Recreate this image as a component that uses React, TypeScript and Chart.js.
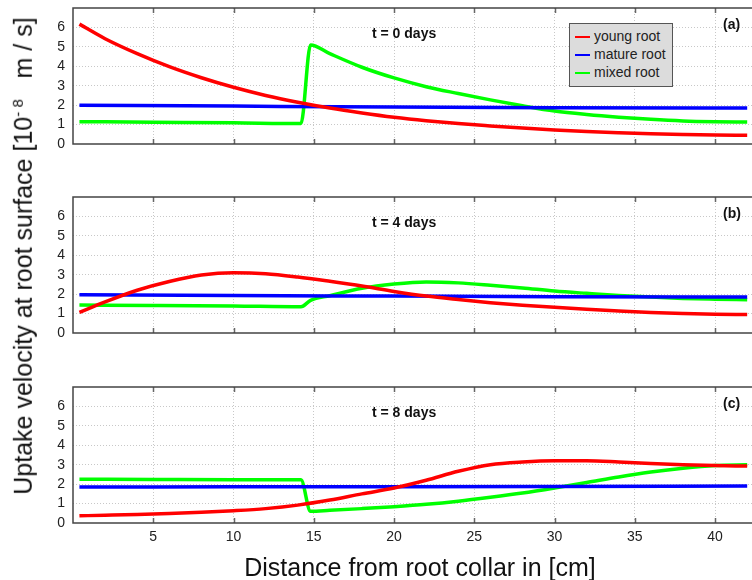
import React, { useEffect, useRef } from "react";
import { Chart, registerables } from "chart.js";
Chart.register(...registerables);

// ---------- data ----------
const SERIES_LABELS = ["young root", "mature root", "mixed root"];
const SERIES_COLORS = ["#ff0000", "#0000ff", "#00ff00"];
const PANEL_TIMES = ["t = 0 days", "t = 4 days", "t = 8 days"];
const PANEL_TAGS = ["(a)", "(b)", "(c)"];
const X_TICKS = [5, 10, 15, 20, 25, 30, 35, 40];
const Y_TICKS = [0, 1, 2, 3, 4, 5, 6];
const X_MIN = 0;
const X_MAX = 42.3;
const Y_MAX = 7;

const X_RED = [0.4, 2, 4, 6, 8, 10, 12, 14, 16, 18, 20, 22, 24, 26, 28, 30, 32, 34, 36, 38, 40, 42];
const X_BLUE = [0.4, 10, 20, 30, 42];
const X_GREEN = [0.4, 5, 10, 14.2, 14.8, 16, 18, 20, 22, 24, 26, 28, 30, 32, 34, 36, 38, 40, 42];

// t = 0 days
const RED_A = [6.17, 5.42, 4.65, 3.98, 3.41, 2.92, 2.5, 2.15, 1.85, 1.6, 1.38, 1.2, 1.05, 0.93, 0.82, 0.72, 0.64, 0.58, 0.53, 0.49, 0.46, 0.45];
const BLUE_A = [2.0, 1.95, 1.9, 1.87, 1.85];
const GREEN_A = [1.15, 1.12, 1.09, 1.05, 5.1, 4.65, 3.95, 3.4, 2.95, 2.6, 2.27, 1.97, 1.7, 1.52, 1.38, 1.27, 1.19, 1.15, 1.13];

// t = 4 days
const RED_B = [1.06, 1.6, 2.2, 2.65, 2.98, 3.1, 3.05, 2.88, 2.66, 2.42, 2.14, 1.9, 1.72, 1.56, 1.43, 1.32, 1.22, 1.13, 1.06, 1.01, 0.97, 0.95];
const BLUE_B = [1.97, 1.93, 1.9, 1.87, 1.85];
const GREEN_B = [1.44, 1.42, 1.39, 1.35, 1.68, 1.92, 2.3, 2.52, 2.63, 2.58, 2.46, 2.32, 2.16, 2.04, 1.93, 1.85, 1.78, 1.74, 1.71];

// t = 8 days
const RED_C = [0.37, 0.4, 0.44, 0.49, 0.55, 0.63, 0.74, 0.92, 1.18, 1.5, 1.8, 2.2, 2.66, 3.0, 3.14, 3.2, 3.2, 3.14, 3.06, 3.0, 2.96, 2.93];
const BLUE_C = [1.85, 1.86, 1.87, 1.88, 1.9];
const GREEN_C = [2.25, 2.24, 2.23, 2.22, 0.6, 0.65, 0.74, 0.84, 0.96, 1.12, 1.32, 1.54, 1.8, 2.08, 2.37, 2.62, 2.82, 2.96, 3.0];

const FONT = "'Liberation Sans', Arial, Helvetica, sans-serif";

const framePlugin = {
  id: "frame",
  afterDraw(chart: any) {
    const { ctx, chartArea, scales } = chart;
    const { left, right, top, bottom } = chartArea;
    ctx.save();
    ctx.strokeStyle = "#666";
    ctx.lineWidth = 1.5;
    X_TICKS.forEach((v) => {
      const px = Math.round(scales.x.getPixelForValue(v)) + 0.5;
      ctx.beginPath();
      ctx.moveTo(px, bottom);
      ctx.lineTo(px, bottom - 5);
      ctx.moveTo(px, top);
      ctx.lineTo(px, top + 5);
      ctx.stroke();
    });
    ctx.strokeStyle = "#444";
    ctx.lineWidth = 1.5;
    ctx.beginPath();
    ctx.moveTo(right + 2, top);
    ctx.lineTo(left, top);
    ctx.lineTo(left, bottom);
    ctx.lineTo(right + 2, bottom);
    ctx.stroke();
    ctx.restore();
  },
};

function mk(label: string, xs: number[], ys: number[], color: string) {
  return {
    label,
    data: xs.map((x, i) => ({ x, y: ys[i] })),
    borderColor: color,
    backgroundColor: color,
    borderWidth: 3.5,
    pointRadius: 0,
    fill: false,
    cubicInterpolationMode: "monotone" as const,
  };
}

type PanelProps = {
  top: number;
  height: number;
  bottomSpace: number;
  showX: boolean;
  red: number[];
  blue: number[];
  green: number[];
};

function Panel({ top, height, bottomSpace, showX, red, blue, green }: PanelProps) {
  const ref = useRef<HTMLCanvasElement>(null);
  useEffect(() => {
    const chart = new Chart(ref.current as HTMLCanvasElement, {
      type: "line",
      data: {
        datasets: [
          mk(SERIES_LABELS[0], X_RED, red, SERIES_COLORS[0]),
          mk(SERIES_LABELS[1], X_BLUE, blue, SERIES_COLORS[1]),
          mk(SERIES_LABELS[2], X_GREEN, green, SERIES_COLORS[2]),
        ],
      },
      options: {
        animation: false,
        responsive: false,
        maintainAspectRatio: false,
        layout: { padding: { top: 8, left: 0, right: 0, bottom: 0 } },
        plugins: { legend: { display: false }, tooltip: { enabled: false } },
        scales: {
          x: {
            type: "linear",
            min: X_MIN,
            max: X_MAX,
            afterBuildTicks: (s: any) => {
              s.ticks = X_TICKS.map((v) => ({ value: v }));
            },
            afterFit: (s: any) => {
              s.height = bottomSpace;
              s.paddingLeft = 0;
              s.paddingRight = 0;
              s.paddingTop = 0;
              s.paddingBottom = 0;
            },
            grid: { color: "#c8c8c8", lineWidth: 1, drawTicks: false },
            border: { display: false, dash: [1, 2] },
            ticks: {
              display: showX,
              padding: 6,
              color: "#222",
              font: { family: FONT, size: 14 },
              maxRotation: 0,
              autoSkip: false,
            },
          },
          y: {
            type: "linear",
            min: 0,
            max: Y_MAX,
            afterBuildTicks: (s: any) => {
              s.ticks = Y_TICKS.map((v) => ({ value: v }));
            },
            afterFit: (s: any) => {
              s.width = 73;
              s.paddingTop = 0;
              s.paddingBottom = 0;
              s.paddingLeft = 0;
              s.paddingRight = 0;
            },
            grid: {
              color: (c: any) => (c.tick && c.tick.value === 0 ? "rgba(0,0,0,0)" : "#c8c8c8"),
              lineWidth: 1,
              drawTicks: false,
            },
            border: { display: false, dash: [1, 2] },
            ticks: {
              padding: 8,
              color: "#222",
              font: { family: FONT, size: 14 },
              autoSkip: false,
            },
          },
        },
      } as any,
      plugins: [framePlugin],
    });
    return () => chart.destroy();
  }, []);
  return (
    <canvas
      ref={ref}
      width={752}
      height={height}
      style={{ position: "absolute", left: 0, top, width: 752, height, display: "block" }}
    />
  );
}

const PANEL_TOPS = [0, 189, 379];

export default function App() {
  const panelData = [
    [RED_A, BLUE_A, GREEN_A],
    [RED_B, BLUE_B, GREEN_B],
    [RED_C, BLUE_C, GREEN_C],
  ];
  const textStyle: React.CSSProperties = {
    position: "absolute",
    fontFamily: FONT,
    color: "#111",
    whiteSpace: "pre",
    lineHeight: 1,
    zIndex: 2,
  };
  return (
    <div
      style={{
        position: "fixed",
        left: 0,
        top: 0,
        width: 752,
        height: 580,
        background: "#fff",
        overflow: "hidden",
      }}
    >
      {panelData.map((d, i) => (
        <Panel
          key={i}
          top={PANEL_TOPS[i]}
          height={i === 2 ? 174 : 148}
          bottomSpace={i === 2 ? 30 : 4}
          showX={i === 2}
          red={d[0]}
          blue={d[1]}
          green={d[2]}
        />
      ))}
      {PANEL_TIMES.map((t, i) => (
        <div
          key={"t" + i}
          style={{ ...textStyle, left: 372, top: PANEL_TOPS[i] + 8 + 18, fontSize: 14, fontWeight: "bold" }}
        >
          {t}
        </div>
      ))}
      {PANEL_TAGS.map((t, i) => (
        <div
          key={"g" + i}
          style={{ ...textStyle, left: 723, top: PANEL_TOPS[i] + 8 + 9, fontSize: 14, fontWeight: "bold" }}
        >
          {t}
        </div>
      ))}
      {/* legend */}
      <div
        style={{
          position: "absolute",
          left: 569,
          top: 23,
          width: 104,
          height: 64,
          background: "#dcdcdc",
          border: "1px solid #555",
          boxSizing: "border-box",
          zIndex: 2,
        }}
      >
        {SERIES_LABELS.map((l, i) => (
          <div key={l} style={{ position: "absolute", left: 5, top: 4 + i * 18, height: 16, width: 98 }}>
            <div
              style={{
                position: "absolute",
                left: 0,
                top: 8,
                width: 15,
                height: 1.5,
                background: SERIES_COLORS[i],
              }}
            />
            <div
              style={{
                position: "absolute",
                left: 19,
                top: 0,
                fontFamily: FONT,
                fontSize: 14,
                lineHeight: "16px",
                color: "#222",
                whiteSpace: "nowrap",
              }}
            >
              {l}
            </div>
          </div>
        ))}
      </div>
      {/* axis titles */}
      <div
        style={{
          ...textStyle,
          left: 420,
          top: 567,
          fontSize: 25,
          transform: "translate(-50%, -50%)",
        }}
      >
        Distance from root collar in [cm]
      </div>
      <div
        style={{
          ...textStyle,
          left: 23,
          top: 256,
          fontSize: 25,
          transform: "translate(-50%, -50%) rotate(-90deg)",
        }}
      >
        {"Uptake velocity at root surface [10"}
        <span style={{ fontSize: 15, verticalAlign: "super", lineHeight: 1 }}>{"- 8"}</span>
        {"   m / s]"}
      </div>
    </div>
  );
}
